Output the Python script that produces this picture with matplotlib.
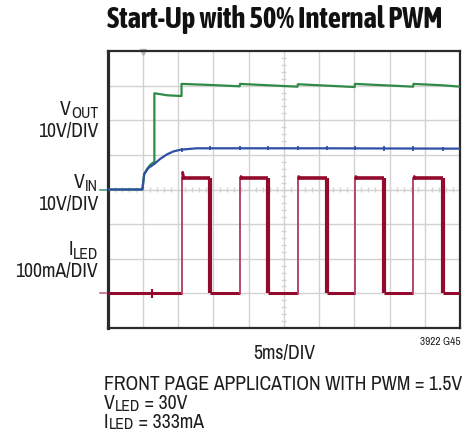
import numpy as np
import matplotlib
matplotlib.use("Agg")
import matplotlib.pyplot as plt
from matplotlib import font_manager
from matplotlib.font_manager import FontProperties

# ---------------- data ----------------
# scope settings
TIME_PER_DIV = 5.0        # ms/div
VOLT_PER_DIV = 10.0       # V/div (VOUT and VIN)
CURR_PER_DIV = 100.0      # mA/div (ILED)
GND_V = 4.0               # ground level of VOUT/VIN traces, in divisions
GND_I = 1.0               # ground level of ILED trace, in divisions

# VOUT trace (ms, V)
vout_t = [0.0, 4.95, 5.2, 5.6, 6.1, 6.65, 6.65, 8.5, 10.5, 10.5, 14.5,
          18.75, 18.8, 22.8, 26.95, 27.0, 31.0, 35.05, 35.1, 39.2,
          43.35, 43.4, 47.5, 50.0]
vout_v = [0.0, 0.0, 4.3, 5.9, 7.2, 8.0, 27.8, 27.2, 27.0, 30.5, 30.2,
          29.8, 30.5, 30.1, 29.7, 30.4, 30.0, 29.6, 30.5, 30.1,
          29.7, 30.5, 30.1, 29.7]

# VIN trace (ms, V)
vin_t = [0.0, 4.95, 5.2, 5.8, 6.65, 7.45, 8.4, 9.35, 10.4, 12.65, 30.0, 50.0]
vin_v = [0.0, 0.0, 4.5, 6.2, 7.4, 8.8, 10.1, 11.0, 11.5, 11.9, 11.9, 11.8]

# ILED PWM pulses (ms) and levels (mA)
pwm_rise = [10.55, 18.8, 27.0, 35.1, 43.4]
pwm_fall = [14.55, 22.8, 31.1, 39.25, 47.55]
iled_on = 333.0
iled_spike = 350.0
iled_glitch_t = 6.35

# ---------------- fonts ----------------
def _weight(f):
    w = f.weight
    if isinstance(w, str):
        w = {"bold": 700, "normal": 400, "regular": 400, "light": 300}.get(w.lower(), 400)
    return int(w)


narrow = [f for f in font_manager.fontManager.ttflist
          if ("Narrow" in f.name or "Condensed" in f.name) and f.style == "normal"]
if narrow:
    reg = min(narrow, key=lambda f: abs(_weight(f) - 400))
    bold = min(narrow, key=lambda f: abs(_weight(f) - 700))
    FP_REG = FontProperties(fname=reg.fname)
    FP_BOLD = FontProperties(fname=bold.fname)
else:
    FP_REG = FontProperties(family="Liberation Sans")
    FP_BOLD = FontProperties(family="Liberation Sans", weight="bold")

W, H = 472, 431
fig = plt.figure(figsize=(W / 100, H / 100), dpi=100)
fig.patch.set_facecolor("white")

left, right, top, bottom = 107.5, 460.0, 52.0, 329.0
ax = fig.add_axes([left / W, 1 - bottom / H, (right - left) / W, (bottom - top) / H])
ax.set_xlim(0, 10)
ax.set_ylim(0, 8)
ax.set_xticks([])
ax.set_yticks([])
for name, sp in ax.spines.items():
    sp.set_color("#2b2b2b")
    sp.set_linewidth(1.6)
ax.spines["left"].set_linewidth(2.3)

# graticule
grid_c = "#d2d2d2"
for x in range(1, 10):
    ax.axvline(x, color=grid_c, lw=1.0, zorder=1)
for y in range(1, 8):
    ax.axhline(y, color=grid_c, lw=1.0, zorder=1)
minor = np.arange(0.2, 10, 0.2)
ax.vlines(minor, 4 - 0.07, 4 + 0.07, color=grid_c, lw=1.0, zorder=1)
minor_y = np.arange(0.2, 8, 0.2)
ax.hlines(minor_y, 5 - 0.07, 5 + 0.07, color=grid_c, lw=1.0, zorder=1)

# trigger marker
ax.plot([1.0], [7.97], marker="v", ms=5, color="#b5b5b5", clip_on=False, zorder=2)

# channel ground markers
ax.plot([-0.2, -0.03], [GND_V, GND_V], color="#4f9a86", lw=1.2, clip_on=False)
ax.plot([-0.2, -0.03], [GND_I, GND_I], color="#c46a84", lw=1.2, clip_on=False)


def tx(t):
    return np.asarray(t) / TIME_PER_DIV


# VIN
blue = "#2f4fa5"
vin_x = tx(vin_t)
vin_y = GND_V + np.asarray(vin_v) / VOLT_PER_DIV
ax.plot(vin_x, vin_y, color=blue, lw=1.6, zorder=4, solid_joinstyle="round")
edges = np.sort(np.concatenate([pwm_rise, pwm_fall]))
edge_y = np.interp(edges, vin_t, vin_v) / VOLT_PER_DIV + GND_V
ax.vlines(tx(edges), edge_y - 0.06, edge_y + 0.06, color=blue, lw=1.3, zorder=4)

# VOUT
green = "#2f8a47"
vout_x = tx(vout_t)
vout_y = GND_V + np.asarray(vout_v) / VOLT_PER_DIV
ax.plot(vout_x, vout_y, color=green, lw=1.6, zorder=3, solid_joinstyle="round")

# ILED
red = "#930a2c"
red_light = "#b8466a"
lo = GND_I
hi = GND_I + iled_on / CURR_PER_DIV
spike = GND_I + iled_spike / CURR_PER_DIV
starts = [0.0] + pwm_fall
ends = pwm_rise + [50.0]
for a, b in zip(starts, ends):
    ax.plot(tx([a, b]), [lo, lo], color=red, lw=2.2, zorder=5, solid_capstyle="butt")
for i, (a, b) in enumerate(zip(pwm_rise, pwm_fall)):
    ax.plot(tx([a, a]), [lo, hi], color=red_light, lw=1.4, zorder=5)
    top_y = spike if i == 0 else hi + 0.05
    ax.plot(tx([a + 0.12, a + 0.12, a + 0.3]), [hi, top_y, hi], color=red, lw=1.8, zorder=5)
    ax.plot(tx([a, b]), [hi, hi], color=red, lw=2.6, zorder=5, solid_capstyle="butt")
    ax.plot(tx([b, b]), [hi, lo], color=red, lw=3.0, zorder=5, solid_capstyle="butt")
ax.plot(tx([iled_glitch_t] * 2), [lo - 0.1, lo + 0.1], color=red, lw=1.5, zorder=5)

# ---------------- text ----------------
fig.canvas.draw()
renderer = fig.canvas.get_renderer()
TXT = "#1e1e1e"


def fx(x):
    return x / W


def fy(y):
    return 1 - y / H


def width_at(s, size, fp):
    t = fig.text(0, 0, s, fontproperties=fp, fontsize=size)
    w = t.get_window_extent(renderer).width
    t.remove()
    return w


def fit_size(s, target_w, max_size, fp):
    return min(max_size, 10 * target_w / width_at(s, 10, fp))


def put(x, y, s, size, fp=None, **kw):
    return fig.text(fx(x), fy(y), s, fontproperties=fp or FP_REG, fontsize=size,
                    va="baseline", color=kw.pop("color", TXT), **kw)


title = "Start-Up with 50% Internal PWM"
put(107, 27.5, title, fit_size(title, 334, 22, FP_BOLD), FP_BOLD, ha="left", color="#111111")

# common body size, fitted to the long caption line
caption = "FRONT PAGE APPLICATION WITH PWM = 1.5V"
BODY = fit_size(caption, 358, 16, FP_REG)
SUB = BODY * 0.8


def sub_label(x_right, y_base, main, sub, drop=3.0):
    s = put(x_right, y_base + drop, sub, SUB, ha="right")
    w = s.get_window_extent(renderer).width
    put(x_right - w, y_base, main, BODY, ha="right")


def sub_label_left(x_left, y_base, main, sub, rest, drop=3.0):
    m = put(x_left, y_base, main, BODY, ha="left")
    w1 = m.get_window_extent(renderer).width
    s = put(x_left + w1, y_base + drop, sub, SUB, ha="left")
    w2 = s.get_window_extent(renderer).width
    put(x_left + w1 + w2, y_base, rest, BODY, ha="left")


sub_label(98, 115, "V", "OUT", drop=2.5)
put(98, 136.7, "10V/DIV", BODY, ha="right")
sub_label(98, 188.3, "V", "IN", drop=2.5)
put(98, 210, "10V/DIV", BODY, ha="right")
sub_label(98, 255, "I", "LED", drop=4.0)
put(98, 276.7, "100mA/DIV", BODY, ha="right")

put(461, 345, "3922 G45", fit_size("3922 G45", 40, 9, FP_REG), ha="right")
put(284, 359.5, "5ms/DIV", BODY, ha="center")
put(104, 390.5, caption, BODY, ha="left")
sub_label_left(104, 409.5, "V", "LED", " = 30V", drop=1.5)
sub_label_left(104, 428.0, "I", "LED", " = 333mA", drop=1.5)

fig.savefig("out.png", dpi=100, facecolor="white")
